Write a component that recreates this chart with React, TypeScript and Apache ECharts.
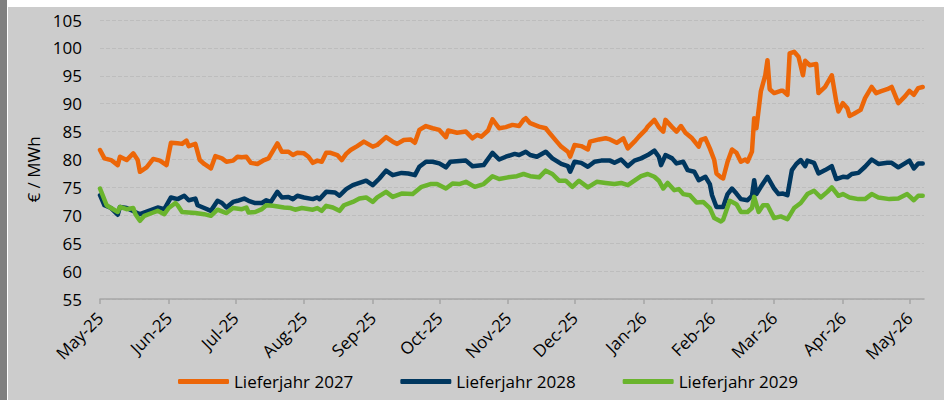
import React, { useEffect, useRef } from "react";
import * as echarts from "echarts";

const seriesNames = ["Lieferjahr 2027", "Lieferjahr 2028", "Lieferjahr 2029"];
const seriesColors = ["#EC6608", "#00375F", "#6AB42D"];

const tickMonths = [
  "2025-05-01", "2025-06-01", "2025-07-01", "2025-08-01", "2025-09-01", "2025-10-01", "2025-11-01",
  "2025-12-01", "2026-01-01", "2026-02-01", "2026-03-01", "2026-04-01", "2026-05-01",
];
const monthNames = ["Jan", "Feb", "Mar", "Apr", "May", "Jun", "Jul", "Aug", "Sep", "Oct", "Nov", "Dec"];
const axisStart = "2025-05-01";
const axisEnd = "2026-05-07";
const yMin = 55;
const yMax = 105;
const yStep = 5;

const dates2027 = [
  "2025-05-01", "2025-05-03", "2025-05-06", "2025-05-09", "2025-05-10", "2025-05-13", "2025-05-16", "2025-05-18",
  "2025-05-19", "2025-05-22", "2025-05-25", "2025-05-28", "2025-05-31", "2025-06-02", "2025-06-05", "2025-06-07",
  "2025-06-09", "2025-06-10", "2025-06-13", "2025-06-15", "2025-06-17", "2025-06-20", "2025-06-22", "2025-06-25",
  "2025-06-27", "2025-06-30", "2025-07-02", "2025-07-04", "2025-07-06", "2025-07-08", "2025-07-11", "2025-07-14",
  "2025-07-16", "2025-07-20", "2025-07-22", "2025-07-25", "2025-07-27", "2025-07-29", "2025-08-01", "2025-08-03",
  "2025-08-05", "2025-08-07", "2025-08-09", "2025-08-11", "2025-08-13", "2025-08-16", "2025-08-18", "2025-08-20",
  "2025-08-22", "2025-08-25", "2025-08-28", "2025-09-01", "2025-09-03", "2025-09-07", "2025-09-10", "2025-09-12",
  "2025-09-15", "2025-09-18", "2025-09-20", "2025-09-22", "2025-09-25", "2025-09-28", "2025-10-01", "2025-10-04",
  "2025-10-05", "2025-10-09", "2025-10-13", "2025-10-16", "2025-10-18", "2025-10-20", "2025-10-23", "2025-10-25",
  "2025-10-28", "2025-10-31", "2025-11-03", "2025-11-06", "2025-11-08", "2025-11-09", "2025-11-11", "2025-11-15",
  "2025-11-18", "2025-11-20", "2025-11-23", "2025-11-25", "2025-11-28", "2025-11-29", "2025-12-01", "2025-12-04",
  "2025-12-07", "2025-12-08", "2025-12-12", "2025-12-15", "2025-12-17", "2025-12-20", "2025-12-23", "2025-12-25",
  "2025-12-28", "2025-12-30", "2026-01-02", "2026-01-03", "2026-01-06", "2026-01-08", "2026-01-10", "2026-01-11",
  "2026-01-14", "2026-01-16", "2026-01-18", "2026-01-20", "2026-01-23", "2026-01-26", "2026-01-27", "2026-01-29",
  "2026-01-31", "2026-02-02", "2026-02-03", "2026-02-05", "2026-02-06", "2026-02-08", "2026-02-10", "2026-02-12",
  "2026-02-14", "2026-02-16", "2026-02-17", "2026-02-19", "2026-02-20", "2026-02-21", "2026-02-23", "2026-02-25",
  "2026-02-26", "2026-02-27", "2026-03-01", "2026-03-04", "2026-03-05", "2026-03-07", "2026-03-08", "2026-03-10",
  "2026-03-12", "2026-03-14", "2026-03-15", "2026-03-17", "2026-03-20", "2026-03-21", "2026-03-24", "2026-03-27",
  "2026-03-29", "2026-03-30", "2026-04-01", "2026-04-03", "2026-04-04", "2026-04-06", "2026-04-09", "2026-04-11",
  "2026-04-14", "2026-04-16", "2026-04-18", "2026-04-21", "2026-04-23", "2026-04-26", "2026-04-29", "2026-05-01",
  "2026-05-03", "2026-05-05", "2026-05-07",
];
const values2027 = [
  81.7, 80.2, 79.9, 79.0, 80.5, 79.9, 81.1, 79.9,
  77.8, 78.6, 80.1, 79.8, 79.0, 83.0, 82.9, 82.8,
  83.4, 82.4, 82.8, 79.9, 79.2, 78.4, 80.6, 80.2,
  79.6, 79.8, 80.5, 80.4, 80.5, 79.4, 79.2, 79.9,
  80.2, 82.9, 81.4, 81.4, 80.8, 81.2, 81.1, 80.5,
  79.4, 79.8, 79.6, 81.2, 81.2, 80.8, 79.9, 81.0,
  81.7, 82.4, 83.2, 82.3, 82.6, 84.0, 83.2, 82.8,
  83.5, 83.6, 83.0, 85.3, 86.0, 85.6, 85.3, 84.0,
  85.2, 84.8, 85.0, 83.8, 84.4, 84.1, 85.2, 87.2,
  85.6, 85.8, 86.2, 86.0, 87.1, 87.4, 86.5, 85.9,
  85.6, 84.6, 83.2, 82.3, 81.4, 80.5, 82.6, 82.4,
  81.8, 83.2, 83.6, 83.8, 83.6, 83.0, 83.8, 82.0,
  83.2, 84.1, 85.3, 85.9, 87.1, 85.8, 85.0, 87.1,
  85.8, 85.0, 86.0, 84.8, 83.8, 82.3, 83.5, 83.8,
  82.0, 79.9, 77.5, 76.8, 76.6, 79.6, 81.8, 81.2,
  79.6, 80.0, 79.6, 81.4, 87.4, 85.6, 92.2, 95.1,
  97.8, 92.6, 91.9, 92.3, 92.3, 91.6, 99.0, 99.3,
  98.4, 95.1, 97.7, 96.9, 97.1, 91.9, 93.0, 95.1,
  90.4, 88.6, 90.1, 89.2, 87.8, 88.2, 88.9, 91.0,
  93.0, 91.9, 92.2, 92.6, 93.0, 90.1, 91.3, 92.3,
  91.6, 92.8, 93.0,
];

const dates2028 = [
  "2025-05-01", "2025-05-03", "2025-05-06", "2025-05-09", "2025-05-10", "2025-05-13", "2025-05-19", "2025-05-23",
  "2025-05-27", "2025-05-30", "2025-06-02", "2025-06-05", "2025-06-08", "2025-06-10", "2025-06-13", "2025-06-14",
  "2025-06-17", "2025-06-20", "2025-06-23", "2025-06-25", "2025-06-27", "2025-06-30", "2025-07-02", "2025-07-05",
  "2025-07-07", "2025-07-10", "2025-07-13", "2025-07-15", "2025-07-17", "2025-07-20", "2025-07-22", "2025-07-25",
  "2025-07-27", "2025-07-29", "2025-08-01", "2025-08-05", "2025-08-07", "2025-08-08", "2025-08-11", "2025-08-15",
  "2025-08-17", "2025-08-20", "2025-08-23", "2025-08-26", "2025-08-29", "2025-09-01", "2025-09-04", "2025-09-07",
  "2025-09-10", "2025-09-14", "2025-09-17", "2025-09-20", "2025-09-22", "2025-09-25", "2025-09-28", "2025-10-01",
  "2025-10-04", "2025-10-06", "2025-10-13", "2025-10-16", "2025-10-21", "2025-10-25", "2025-10-28", "2025-10-31",
  "2025-11-04", "2025-11-06", "2025-11-09", "2025-11-11", "2025-11-14", "2025-11-18", "2025-11-21", "2025-11-25",
  "2025-11-28", "2025-11-29", "2025-12-01", "2025-12-04", "2025-12-07", "2025-12-10", "2025-12-13", "2025-12-17",
  "2025-12-19", "2025-12-22", "2025-12-25", "2025-12-28", "2025-12-31", "2026-01-03", "2026-01-06", "2026-01-08",
  "2026-01-09", "2026-01-11", "2026-01-14", "2026-01-16", "2026-01-19", "2026-01-21", "2026-01-24", "2026-01-26",
  "2026-01-29", "2026-01-31", "2026-02-01", "2026-02-03", "2026-02-06", "2026-02-08", "2026-02-10", "2026-02-12",
  "2026-02-14", "2026-02-17", "2026-02-19", "2026-02-20", "2026-02-21", "2026-02-23", "2026-02-26", "2026-03-01",
  "2026-03-03", "2026-03-05", "2026-03-07", "2026-03-09", "2026-03-11", "2026-03-13", "2026-03-15", "2026-03-16",
  "2026-03-19", "2026-03-21", "2026-03-24", "2026-03-27", "2026-03-29", "2026-04-01", "2026-04-03", "2026-04-05",
  "2026-04-08", "2026-04-11", "2026-04-14", "2026-04-17", "2026-04-21", "2026-04-23", "2026-04-26", "2026-05-01",
  "2026-05-03", "2026-05-05", "2026-05-07",
];
const values2028 = [
  73.6, 71.8, 71.3, 70.1, 71.5, 71.3, 70.2, 70.8,
  71.4, 71.1, 73.2, 72.9, 73.5, 72.7, 73.0, 71.8,
  71.3, 70.8, 72.6, 72.2, 71.4, 72.4, 72.6, 73.0,
  72.6, 72.2, 72.2, 72.7, 72.4, 74.2, 73.2, 73.3,
  72.9, 73.5, 73.2, 72.9, 73.2, 72.9, 74.2, 74.1,
  73.5, 74.7, 75.4, 75.8, 76.2, 75.4, 76.6, 78.0,
  77.2, 77.6, 77.5, 77.2, 78.7, 79.6, 79.6, 79.3,
  78.6, 79.6, 79.8, 78.8, 79.0, 81.2, 80.0, 80.5,
  81.0, 80.8, 81.4, 80.8, 80.5, 81.4, 80.2, 79.2,
  78.8, 77.8, 79.6, 79.4, 78.7, 79.6, 79.8, 79.8,
  79.4, 80.0, 78.8, 79.8, 80.2, 80.8, 81.6, 80.5,
  79.0, 80.8, 80.2, 79.3, 79.6, 78.1, 77.8, 76.3,
  76.9, 75.6, 73.6, 71.5, 71.5, 73.8, 74.8, 73.9,
  72.9, 72.7, 73.5, 76.3, 73.8, 75.1, 76.9, 74.8,
  73.8, 73.9, 73.6, 78.1, 79.2, 79.9, 78.8, 79.8,
  79.4, 77.5, 78.1, 78.8, 76.5, 76.9, 76.8, 77.4,
  77.6, 78.7, 80.0, 79.2, 79.4, 79.4, 78.6, 79.8,
  78.4, 79.3, 79.3,
];

const dates2029 = [
  "2025-05-01", "2025-05-04", "2025-05-06", "2025-05-09", "2025-05-10", "2025-05-13", "2025-05-16", "2025-05-17",
  "2025-05-19", "2025-05-21", "2025-05-25", "2025-05-27", "2025-05-30", "2025-06-01", "2025-06-04", "2025-06-05",
  "2025-06-07", "2025-06-13", "2025-06-17", "2025-06-20", "2025-06-23", "2025-06-27", "2025-06-30", "2025-07-04",
  "2025-07-06", "2025-07-07", "2025-07-10", "2025-07-13", "2025-07-15", "2025-07-18", "2025-07-23", "2025-07-26",
  "2025-07-28", "2025-07-31", "2025-08-05", "2025-08-07", "2025-08-09", "2025-08-11", "2025-08-14", "2025-08-17",
  "2025-08-19", "2025-08-23", "2025-08-26", "2025-08-29", "2025-09-01", "2025-09-03", "2025-09-07", "2025-09-10",
  "2025-09-14", "2025-09-19", "2025-09-23", "2025-09-27", "2025-09-30", "2025-10-04", "2025-10-07", "2025-10-10",
  "2025-10-13", "2025-10-17", "2025-10-21", "2025-10-25", "2025-10-28", "2025-11-01", "2025-11-05", "2025-11-08",
  "2025-11-11", "2025-11-15", "2025-11-18", "2025-11-21", "2025-11-24", "2025-11-27", "2025-11-30", "2025-12-03",
  "2025-12-07", "2025-12-11", "2025-12-15", "2025-12-19", "2025-12-22", "2025-12-25", "2025-12-28", "2025-12-31",
  "2026-01-03", "2026-01-06", "2026-01-08", "2026-01-10", "2026-01-12", "2026-01-15", "2026-01-17", "2026-01-19",
  "2026-01-22", "2026-01-25", "2026-01-28", "2026-01-31", "2026-02-02", "2026-02-05", "2026-02-06", "2026-02-09",
  "2026-02-12", "2026-02-14", "2026-02-17", "2026-02-19", "2026-02-20", "2026-02-22", "2026-02-24", "2026-02-26",
  "2026-03-01", "2026-03-04", "2026-03-07", "2026-03-10", "2026-03-13", "2026-03-16", "2026-03-19", "2026-03-22",
  "2026-03-25", "2026-03-27", "2026-03-30", "2026-04-01", "2026-04-04", "2026-04-08", "2026-04-11", "2026-04-14",
  "2026-04-17", "2026-04-22", "2026-04-26", "2026-04-30", "2026-05-03", "2026-05-05", "2026-05-07",
];
const values2029 = [
  74.8, 71.8, 71.3, 70.6, 71.5, 71.1, 71.3, 70.2,
  69.0, 69.9, 70.5, 70.8, 70.2, 71.3, 72.2, 71.8,
  70.6, 70.4, 70.2, 69.9, 71.0, 70.4, 71.3, 71.1,
  71.4, 70.5, 70.6, 71.1, 71.8, 71.7, 71.4, 71.3,
  71.0, 71.3, 71.0, 71.3, 70.8, 71.7, 71.4, 70.8,
  71.8, 72.4, 73.0, 73.2, 72.4, 73.2, 74.2, 73.3,
  73.9, 73.8, 75.1, 75.6, 75.6, 74.8, 75.7, 75.6,
  76.0, 75.1, 75.6, 77.0, 76.5, 76.8, 77.0, 77.4,
  77.0, 76.8, 78.0, 77.4, 76.2, 76.2, 75.1, 76.2,
  75.0, 76.0, 75.8, 75.6, 75.8, 75.4, 76.2, 77.0,
  77.4, 76.9, 76.2, 74.8, 75.8, 74.5, 74.7, 73.8,
  73.6, 72.3, 72.4, 71.3, 69.5, 68.9, 69.2, 72.6,
  72.0, 70.6, 70.6, 71.3, 73.3, 70.6, 71.8, 71.8,
  69.5, 69.8, 69.3, 71.3, 72.2, 73.8, 74.4, 73.2,
  74.2, 75.0, 73.5, 73.8, 73.2, 72.9, 72.9, 73.8,
  73.2, 72.9, 73.0, 73.8, 72.7, 73.5, 73.5,
];

const ts = (s: string): number => {
  const [y, m, d] = s.split("-").map(Number);
  return new Date(y, m - 1, d).getTime();
};
const zip = (dates: string[], values: number[]) => dates.map((d, i) => [ts(d), values[i]]);

const FONT = "Open Sans";

export default function App() {
  const ref = useRef<HTMLDivElement>(null);
  useEffect(() => {
    if (!ref.current) return;
    const chart = echarts.init(ref.current, undefined, { renderer: "svg" });
    const tickValues = tickMonths.map(ts);
    const allDates = [dates2027, dates2028, dates2029];
    const allValues = [values2027, values2028, values2029];
    chart.setOption({
      animation: false,
      backgroundColor: "#cccccc",
      textStyle: { fontFamily: FONT },
      grid: { left: 92, right: 20, top: 13, bottom: 101 },
      legend: {
        data: seriesNames,
        left: 165,
        top: 361,
        icon: "roundRect",
        itemWidth: 51,
        itemHeight: 5,
        itemGap: 47,
        textStyle: { fontFamily: FONT, fontSize: 17, color: "#000" },
      },
      xAxis: {
        type: "value",
        min: ts(axisStart),
        max: ts(axisEnd) + 14 * 3600 * 1000,
        axisLine: { show: true, lineStyle: { color: "#a6a6a6", width: 1.5 } },
        axisTick: {
          show: true,
          length: 5,
          lineStyle: { color: "#a6a6a6", width: 1.5 },
          customValues: tickValues,
        },
        axisLabel: {
          customValues: tickValues,
          rotate: 45,
          margin: 16,
          fontFamily: FONT,
          fontSize: 17,
          color: "#000",
          showMinLabel: true,
          showMaxLabel: true,
          formatter: (v: number) => {
            const d = new Date(v);
            return `${monthNames[d.getMonth()]}-${String(d.getFullYear()).slice(2)}`;
          },
        },
        splitLine: { show: false },
      },
      yAxis: {
        type: "value",
        min: yMin,
        max: yMax,
        interval: yStep,
        name: "€ / MWh",
        nameLocation: "middle",
        nameGap: 58,
        nameTextStyle: { fontFamily: FONT, fontSize: 17, color: "#000", padding: [0, 20, 0, 0] },
        axisLine: { show: false },
        axisTick: { show: false },
        axisLabel: { margin: 18, fontFamily: FONT, fontSize: 17, color: "#000" },
        splitLine: { show: true, lineStyle: { color: "#bdbdbd", width: 1, type: [4, 2] } },
      },
      series: seriesNames.map((name, i) => ({
        name,
        type: "line",
        data: zip(allDates[i], allValues[i]),
        symbol: "none",
        color: seriesColors[i],
        lineStyle: { width: 4.5, color: seriesColors[i], join: "round", cap: "round" },
        z: 2 + i,
      })),
    });
    return () => chart.dispose();
  }, []);
  return (
    <div style={{ position: "absolute", left: 0, top: 0, width: 944, height: 400, background: "#ffffff" }}>
      <div style={{ position: "absolute", left: 0, top: 0, width: 7, height: 400, background: "#808080" }} />
      <div ref={ref} style={{ position: "absolute", left: 8, top: 7, width: 936, height: 393 }} />
    </div>
  );
}
